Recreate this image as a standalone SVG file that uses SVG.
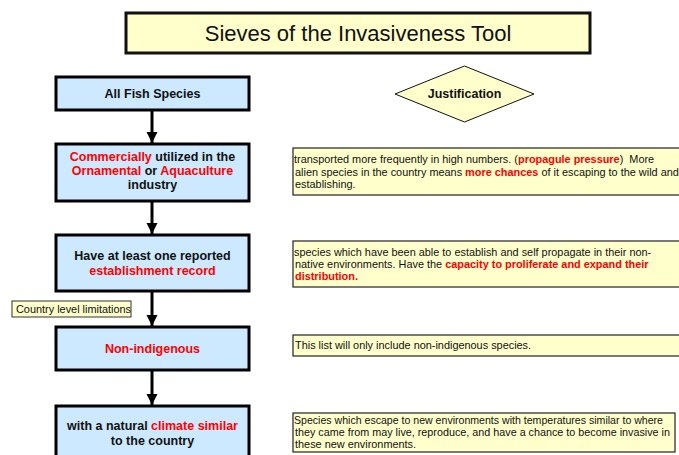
<svg xmlns="http://www.w3.org/2000/svg" width="679" height="455" viewBox="0 0 679 455">
<defs>
<marker id="ah" markerWidth="12" markerHeight="12" refX="11" refY="5.5" orient="auto" markerUnits="userSpaceOnUse" viewBox="0 0 12 12">
<path d="M0,0 L11,5.5 L0,11 Z" fill="#000"/>
</marker>
</defs>
<style>
.blue{fill:#CCE9FF;stroke:#000;stroke-width:3}
.yel{fill:#FFFFCC;stroke:#222;stroke-width:1.2}
.bt{font-family:"Liberation Sans",Arial,sans-serif;font-weight:bold;font-size:12.5px;text-anchor:middle;fill:#111}
.tt{font-family:"Liberation Sans",Arial,sans-serif;font-size:10.9px;fill:#111}
.r{fill:#FF0000;font-weight:bold}
.conn{stroke:#000;stroke-width:3;fill:none}
</style>
<rect x="0" y="0" width="679" height="455" fill="#fff"/>
<g id="title">
<rect x="126" y="13" width="464" height="40" fill="#FFFFCC" stroke="#111" stroke-width="3"/>
<text x="358" y="41" font-family="Liberation Sans,Arial,sans-serif" font-size="22" text-anchor="middle" fill="#111">Sieves of the Invasiveness Tool</text>
</g>
<g id="justification">
<polygon points="395,94 464.5,66 534,94 464.5,122" fill="#FFFFCC" stroke="#111" stroke-width="1"/>
<text x="464.5" y="98" class="bt" font-size="12">Justification</text>
</g>
<g id="connectors">
<line class="conn" x1="152" y1="110" x2="152" y2="143" marker-end="url(#ah)"/>
<line class="conn" x1="152" y1="201" x2="152" y2="234" marker-end="url(#ah)"/>
<line class="conn" x1="152" y1="291" x2="152" y2="326" marker-end="url(#ah)"/>
<line class="conn" x1="152" y1="370" x2="152" y2="405" marker-end="url(#ah)"/>
</g>
<g id="n1">
<rect class="blue" x="56" y="77" width="193" height="33"/>
<text x="152.5" y="98" class="bt">All Fish Species</text>
</g>
<g id="n2">
<rect class="blue" x="56" y="144" width="193" height="57"/>
<text x="152.5" y="161" class="bt"><tspan class="r">Commercially</tspan> utilized in the</text>
<text x="152.5" y="175" class="bt"><tspan class="r">Ornamental</tspan> or <tspan class="r">Aquaculture</tspan></text>
<text x="152.5" y="189" class="bt">industry</text>
</g>
<g id="n3">
<rect class="blue" x="56" y="235" width="193" height="56"/>
<text x="152.5" y="260" class="bt">Have at least one reported</text>
<text x="152.5" y="275" class="bt"><tspan class="r">establishment record</tspan></text>
</g>
<g id="n4">
<rect class="blue" x="56" y="327" width="193" height="43"/>
<text x="152.5" y="353" class="bt"><tspan class="r">Non-indigenous</tspan></text>
</g>
<g id="n5">
<rect class="blue" x="56" y="406" width="193" height="60"/>
<text x="152.5" y="430" class="bt">with a natural <tspan class="r">climate similar</tspan></text>
<text x="152.5" y="445" class="bt">to the country</text>
</g>
<g id="country">
<rect x="12" y="301" width="119" height="16" fill="#FFFFCC" stroke="#333" stroke-width="1"/>
<text x="16" y="313" class="tt">Country level limitations</text>
</g>
<g id="j1">
<rect class="yel" x="293" y="148" width="400" height="47"/>
<text x="294" y="163" class="tt" xml:space="preserve">transported more frequently in high numbers. (<tspan class="r">propagule pressure</tspan>)  More</text>
<text x="295" y="175.5" class="tt">alien species in the country means <tspan class="r">more chances</tspan> of it escaping to the wild and</text>
<text x="295" y="188" class="tt">establishing.</text>
</g>
<g id="j2">
<rect class="yel" x="293" y="241" width="400" height="46"/>
<text x="294" y="256" class="tt">species which have been able to establish and self propagate in their non-</text>
<text x="295" y="268" class="tt">native environments. Have the <tspan class="r">capacity to proliferate and expand their</tspan></text>
<text x="295" y="280" class="tt"><tspan class="r">distribution.</tspan></text>
</g>
<g id="j3">
<rect class="yel" x="293" y="335" width="400" height="21"/>
<text x="295" y="349" class="tt">This list will only include non-indigenous species.</text>
</g>
<g id="j4">
<rect class="yel" x="293" y="413" width="382" height="39"/>
<text x="294" y="424" class="tt" font-size="10.5" textLength="369" lengthAdjust="spacingAndGlyphs">Species which escape to new environments with temperatures similar to where</text>
<text x="295" y="436" class="tt" font-size="10.5" textLength="375" lengthAdjust="spacingAndGlyphs">they came from may live, reproduce, and have a chance to become invasive in</text>
<text x="295" y="448" class="tt" font-size="10.5">these new environments.</text>
</g>
</svg>
